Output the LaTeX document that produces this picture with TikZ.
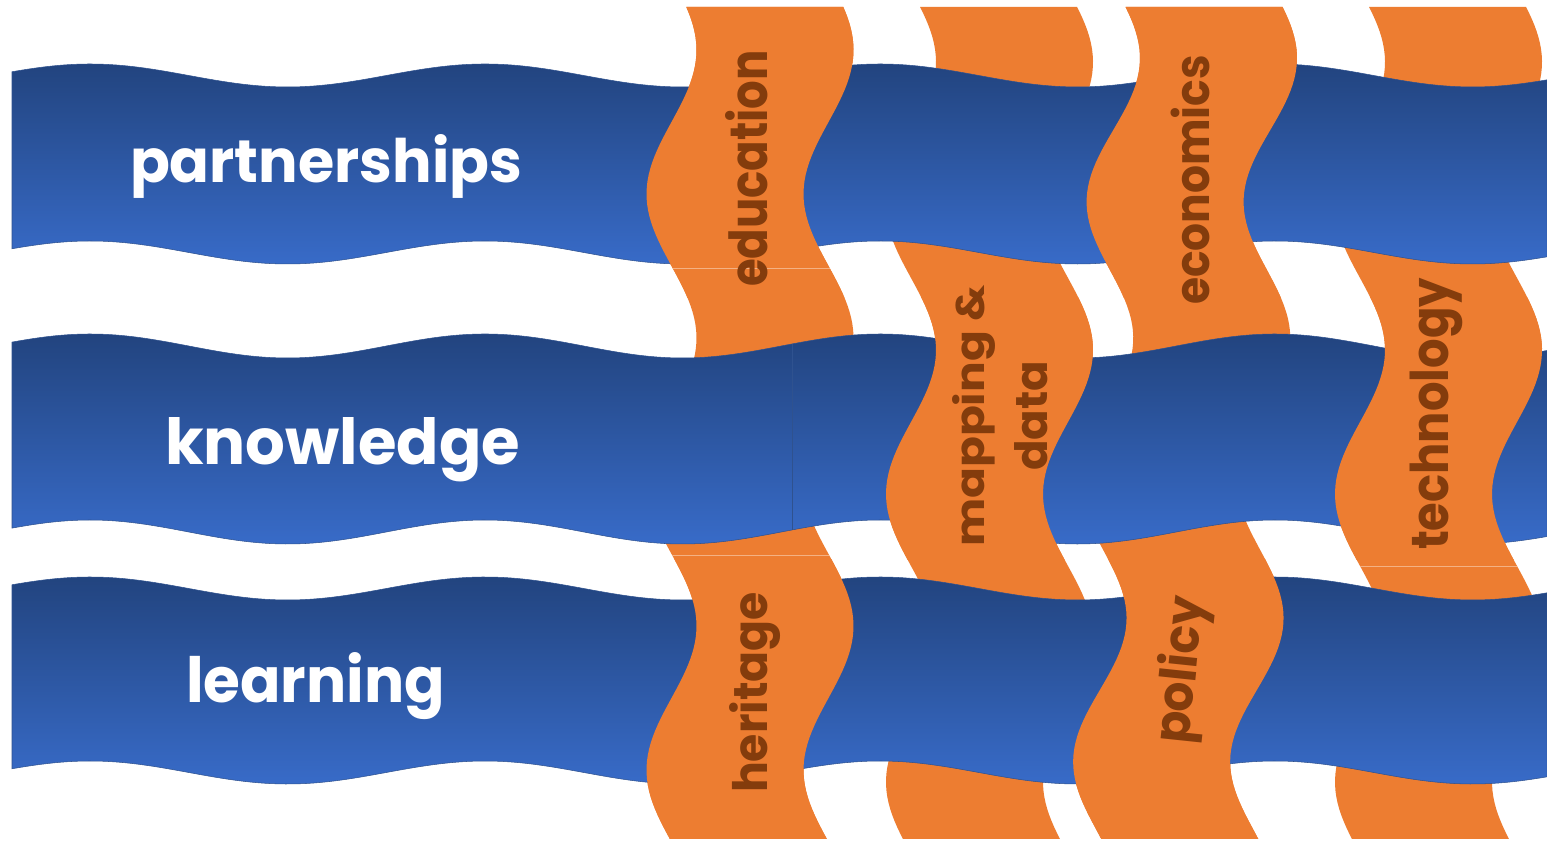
\documentclass[tikz,border=0pt]{standalone}
\usepackage{fontspec}
\usepackage{graphicx}
\newfontfamily\wfont{Poppins}
\definecolor{orfillc}{HTML}{ED7D31}
\definecolor{obrown}{HTML}{843C0C}
\definecolor{bandtop}{HTML}{22447F}
\definecolor{bandbot}{HTML}{386BC8}
\definecolor{bandline}{HTML}{2F528F}
\definecolor{seamc}{HTML}{F4B183}
% width and height (above the baseline) of a word
\newcommand\fitwh[3]{\resizebox{#1}{#2}{#3}}
% blue horizontal band: #1 base of top edge, #2 amplitude, #3 thickness
\newcommand\bluerow[3]{%
  \path[bluestyle] plot[domain=12:1547,samples=220,variable=\x]
    ({\x},{841-(#1-#2*cos((360/395)*(\x-90)))})
    -- plot[domain=1547:12,samples=220,variable=\x]
    ({\x},{841-(#1+#3-#2*cos((360/395)*(\x-90)))}) -- cycle;}
% orange vertical band: #1 left-edge centre at y=400, #2 drift, #3 y of max, #4 period
\newcommand\orcol[4]{%
  \fill[orfill] plot[domain=7:839,samples=140,variable=\t]
    ({#1+#2*(\t-400)+25*cos((360/#4)*(\t-#3))},{841-\t})
    -- plot[domain=839:7,samples=140,variable=\t]
    ({#1+157+#2*(\t-400)+25*cos((360/#4)*(\t-#3))},{841-\t}) -- cycle;}
\begin{document}
\begin{tikzpicture}[x=0.02cm,y=0.02cm,
  bluestyle/.style={top color=bandtop,bottom color=bandbot,draw=bandline,line width=0.3pt},
  orfill/.style={fill=orfillc},
  wlab/.style={font=\wfont\bfseries,text=white,inner sep=0pt},
  olab/.style={font=\wfont\bfseries,text=obrown,inner sep=0pt},
  seam/.style={draw=seamc,line width=0.4pt},
  bseam/.style={draw=bandline,line width=0.4pt}]
\useasboundingbox (0,0) rectangle (1547,841);
\fill[white] (0,0) rectangle (1547,841);
% orange columns (under pass)
\orcol{671.5}{0}{50}{288}
\orcol{911}{0}{62}{288}
\orcol{1106.8}{(-0.024)}{60}{280}
\orcol{1360}{0}{62}{288}
% blue rows
\bluerow{75.5}{11.5}{177}
\bluerow{346}{12}{186}
\bluerow{588.5}{11.5}{184}
% orange columns over the rows
\begin{scope}
  \clip (0,841) rectangle (1547,543);
  \orcol{671.5}{0}{50}{288}
  \orcol{1106.8}{(-0.024)}{60}{280}
\end{scope}
\begin{scope}
  \clip (0,543) rectangle (1547,281);
  \orcol{911}{0}{62}{288}
  \orcol{1360}{0}{62}{288}
\end{scope}
\begin{scope}
  \clip (0,281) rectangle (1547,0);
  \orcol{671.5}{0}{50}{288}
  \orcol{1106.8}{(-0.024)}{60}{280}
\end{scope}
% seams between pieces
\draw[seam] (672.6,573) -- (829.6,573);
\draw[seam] (672,286) -- (829,286);
\draw[seam] (1360,275) -- (1517,275);
\draw[bseam] (792,497) -- (792,311);
% labels
\node[wlab,anchor=base] (partnerships) at (326,658) {\fitwh{7.84cm}{0.96cm}{partnerships}};
\node[wlab,anchor=base] (knowledge) at (342.5,376) {\fitwh{7.10cm}{0.94cm}{knowledge}};
\node[wlab,anchor=base] (learning) at (315.5,138) {\fitwh{5.18cm}{1.0cm}{learning}};
\node[olab,anchor=base,rotate=90] (education) at (767,672.5) {\fitwh{4.74cm}{0.84cm}{education}};
\node[olab,anchor=base,rotate=90] (heritage) at (767,148.5) {\fitwh{4.02cm}{0.76cm}{heritage}};
\node[olab,anchor=base,rotate=90] (economics) at (1209,661) {\fitwh{5.00cm}{0.77cm}{economics}};
\node[olab,anchor=base,rotate=90] (technology) at (1448,427) {\fitwh{5.44cm}{0.77cm}{technology}};
\node[olab,anchor=center,rotate=90,align=center,
      font=\wfont\bfseries\fontsize{30}{35.7}\selectfont] (mapping) at (1000,425)
  {\fitwh{5.24cm}{0.64cm}{mapping \&}\\\fitwh{2.2cm}{0.66cm}{data}};
\node[olab,anchor=center,rotate=84] (policy) at (1183,171) {\fitwh{2.96cm}{0.8cm}{policy}};
\end{tikzpicture}
\end{document}
